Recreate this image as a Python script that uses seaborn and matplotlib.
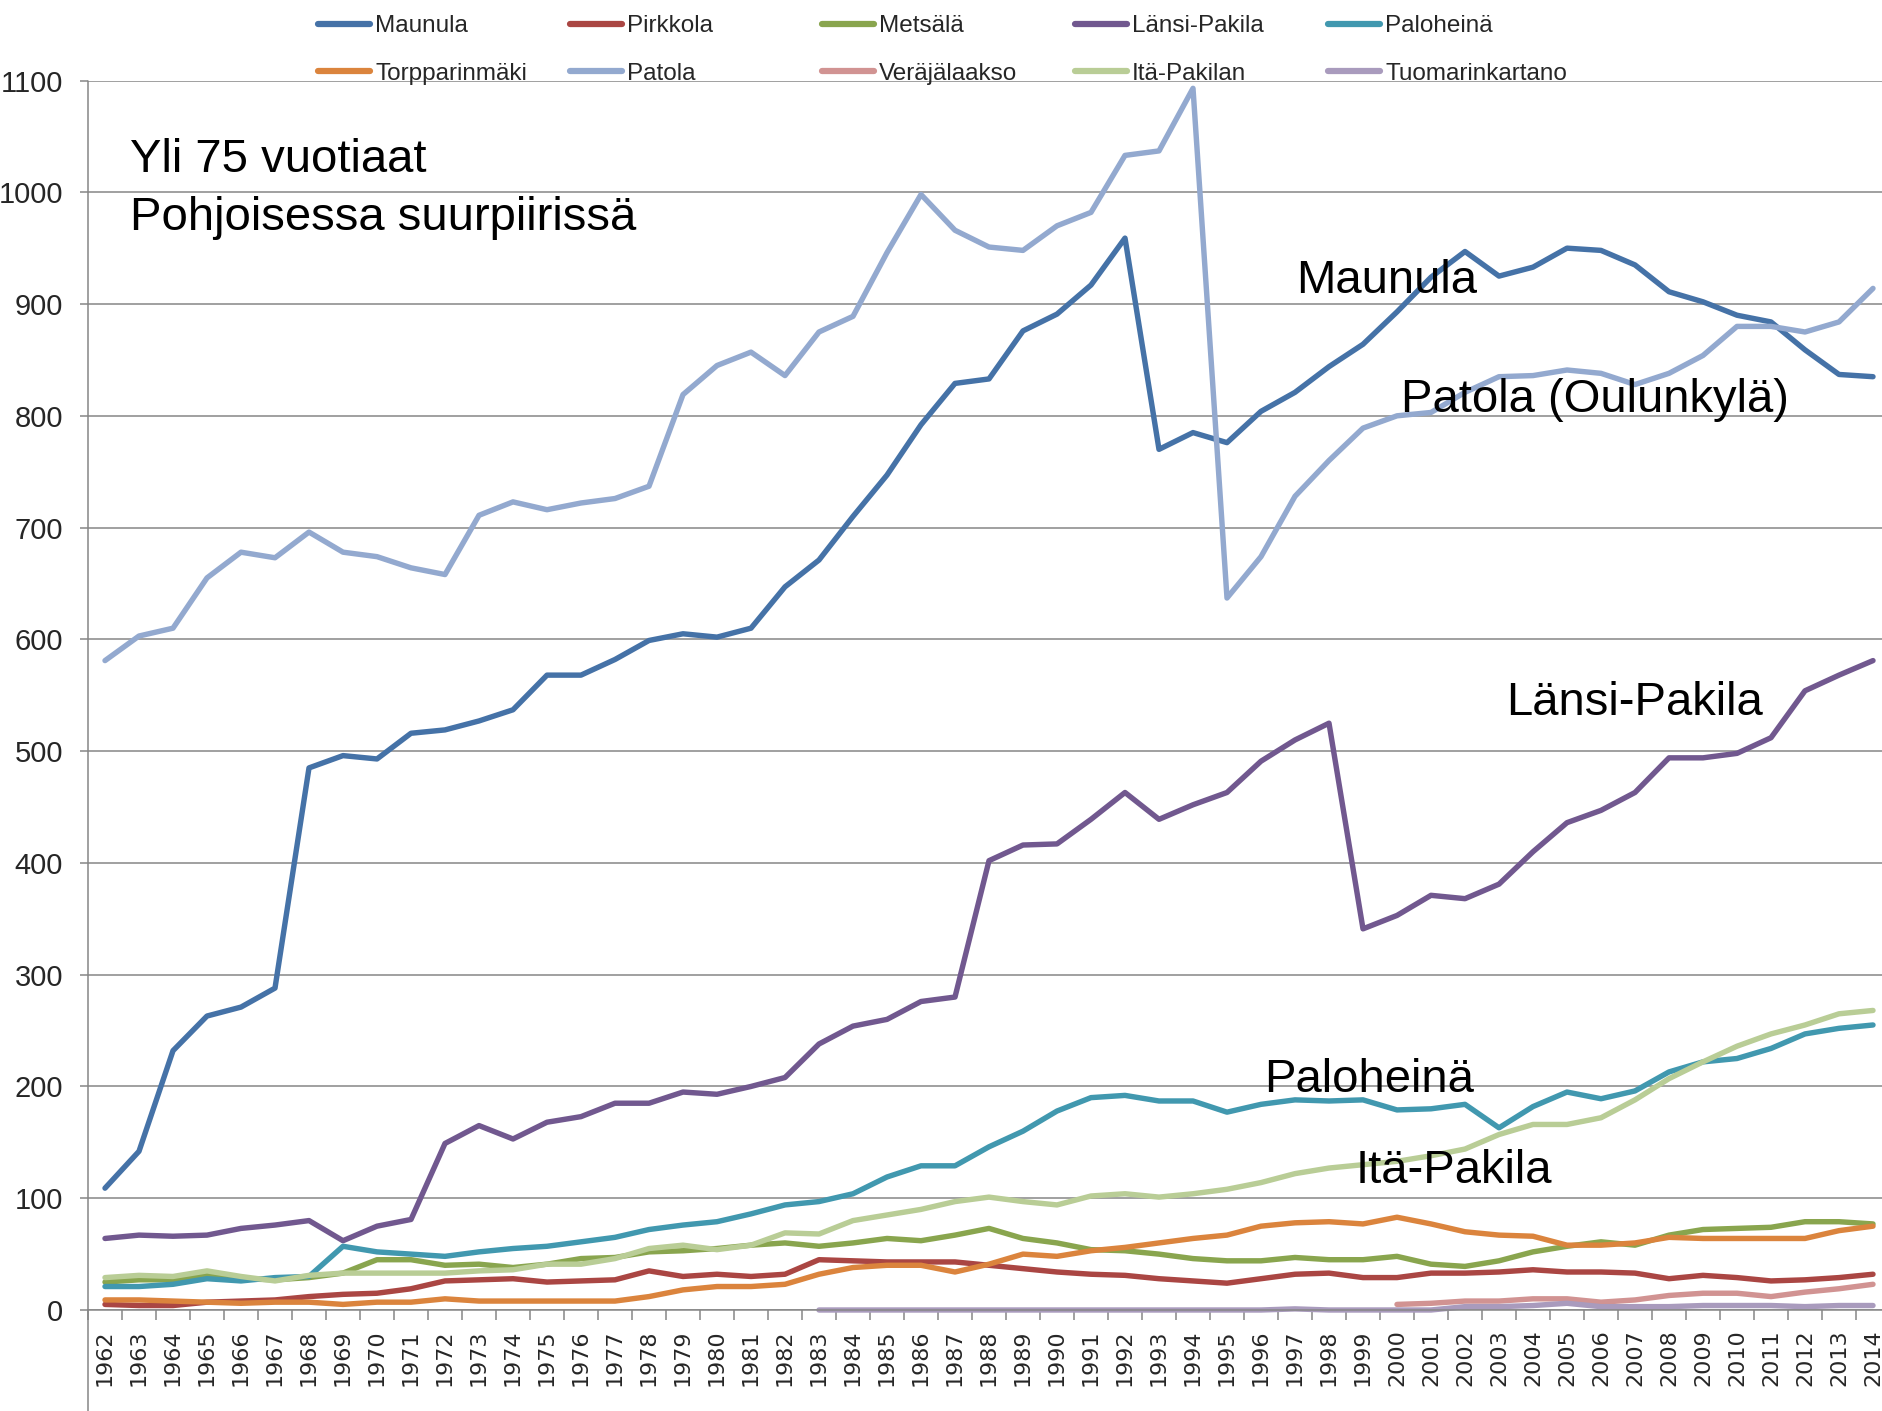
import matplotlib
matplotlib.use("Agg")
import matplotlib.pyplot as plt
from matplotlib.lines import Line2D
import seaborn as sns
import pandas as pd
import numpy as np

# data (persons aged over 75)
years = list(range(1962, 2015))

maunula = [109, 142, 232, 263, 271, 288, 485, 496, 493, 516,
           519, 527, 537, 568, 568, 582, 599, 605, 602, 610,
           647, 671, 710, 747, 792, 829, 833, 876, 891, 917,
           959, 770, 785, 776, 804, 821, 844, 864, 893, 924,
           947, 925, 933, 950, 948, 935, 911, 902, 890, 884,
           859, 837, 835]
pirkkola = [5, 4, 4, 7, 8, 9, 12, 14, 15, 19,
            26, 27, 28, 25, 26, 27, 35, 30, 32, 30,
            32, 45, 44, 43, 43, 43, 40, 37, 34, 32,
            31, 28, 26, 24, 28, 32, 33, 29, 29, 33,
            33, 34, 36, 34, 34, 33, 28, 31, 29, 26,
            27, 29, 32]
metsala = [25, 27, 27, 31, 28, 27, 29, 33, 45, 45,
           40, 41, 38, 41, 46, 47, 52, 53, 55, 58,
           60, 57, 60, 64, 62, 67, 73, 64, 60, 54,
           53, 50, 46, 44, 44, 47, 45, 45, 48, 41,
           39, 44, 52, 57, 61, 58, 67, 72, 73, 74,
           79, 79, 77]
lansi_pakila = [64, 67, 66, 67, 73, 76, 80, 62, 75, 81,
                149, 165, 153, 168, 173, 185, 185, 195, 193, 200,
                208, 238, 254, 260, 276, 280, 402, 416, 417, 439,
                463, 439, 452, 463, 491, 510, 525, 341, 353, 371,
                368, 381, 410, 436, 447, 463, 494, 494, 498, 512,
                554, 568, 581]
paloheina = [21, 21, 23, 28, 26, 29, 30, 57, 52, 50,
             48, 52, 55, 57, 61, 65, 72, 76, 79, 86,
             94, 97, 104, 119, 129, 129, 146, 160, 178, 190,
             192, 187, 187, 177, 184, 188, 187, 188, 179, 180,
             184, 163, 182, 195, 189, 196, 213, 222, 225, 234,
             247, 252, 255]
torpparinmaki = [9, 9, 8, 7, 6, 7, 7, 5, 7, 7,
                 10, 8, 8, 8, 8, 8, 12, 18, 21, 21,
                 23, 32, 38, 40, 40, 34, 41, 50, 48, 53,
                 56, 60, 64, 67, 75, 78, 79, 77, 83, 77,
                 70, 67, 66, 58, 58, 60, 65, 64, 64, 64,
                 64, 71, 75]
patola = [581, 603, 610, 655, 678, 673, 696, 678, 674, 664,
          658, 711, 723, 716, 722, 726, 737, 819, 845, 857,
          836, 875, 889, 946, 998, 966, 951, 948, 970, 982,
          1033, 1037, 1093, 637, 674, 728, 760, 789, 800, 803,
          821, 835, 836, 841, 838, 828, 838, 854, 880, 880,
          875, 884, 914]
# series that start later: None = no data
verajalaakso = [None] * 38 + [5, 6, 8, 8, 10, 10, 7, 9, 13, 15,
                              15, 12, 16, 19, 23]
ita_pakila = [29, 31, 30, 35, 30, 26, 31, 33, 33, 33,
              33, 35, 36, 41, 41, 46, 55, 58, 54, 58,
              69, 68, 80, 85, 90, 97, 101, 97, 94, 102,
              104, 101, 104, 108, 114, 122, 127, 130, 133, 138,
              144, 157, 166, 166, 172, 188, 207, 222, 236, 247,
              255, 265, 268]
tuomarinkartano = [None] * 21 + [0, 0, 0, 0, 0, 0, 0, 0, 0, 0,
                                 0, 0, 0, 0, 1, 0, 0, 0, 0, 3,
                                 3, 4, 6, 3, 3, 3, 4, 4, 4, 3,
                                 4, 4]

areas = ["Maunula", "Pirkkola", "Metsälä", "Länsi-Pakila", "Paloheinä",
         "Torpparinmäki", "Patola", "Veräjälaakso", "Itä-Pakilan", "Tuomarinkartano"]
series = [maunula, pirkkola, metsala, lansi_pakila, paloheina,
          torpparinmaki, patola, verajalaakso, ita_pakila, tuomarinkartano]
colors = ["#4572A7", "#AA4643", "#89A54E", "#71588F", "#4198AF",
          "#DB843D", "#93A9CF", "#D19392", "#B9CD96", "#A99BBD"]
palette = dict(zip(areas, colors))

wide = pd.DataFrame(dict(zip(areas, series)), index=years)
wide.index.name = "year"
df = wide.reset_index().melt(id_vars="year", var_name="area", value_name="value")
df = df.dropna(subset=["value"])

sns.set_style("white")
plt.rcParams["font.family"] = ["Liberation Sans", "DejaVu Sans"]

W, H = 1883, 1411
fig = plt.figure(figsize=(W / 100, H / 100), dpi=100)
ax = fig.add_axes([88 / W, 101 / H, (W - 88) / W, 1229.5 / H])

sns.lineplot(data=df, x="year", y="value", hue="area", hue_order=areas,
             palette=palette, linewidth=3.9, estimator=None, sort=False,
             legend=False, ax=ax)
for ln in ax.lines:
    ln.set_clip_on(False)
    ln.set_solid_joinstyle("round")
    ln.set_solid_capstyle("round")

grey = "#868686"
ax.set_ylim(0, 1100)
ax.set_xlim(1961.5, 1961.5 + (W - 88) / 34.0)
ax.set_yticks(range(0, 1101, 100))
ax.yaxis.grid(True, color=grey, linewidth=1.1)
ax.set_axisbelow(True)
ax.set_xlabel(None)
ax.set_ylabel(None)

for side in ["top", "right", "left"]:
    ax.spines[side].set_visible(False)
ax.spines["bottom"].set_color(grey)
ax.spines["bottom"].set_linewidth(1.1)

ax.set_xticks(years)
ax.set_xticklabels([str(y) for y in years], rotation=90, va="top",
                   fontfamily="DejaVu Sans", fontsize=16)
ax.set_xticks([y - 0.5 for y in years], minor=True)
ax.tick_params(axis="x", which="major", length=0, pad=14)
ax.tick_params(axis="x", which="minor", length=7, color=grey, width=1.1, bottom=True)
ax.tick_params(axis="y", which="major", length=6, color=grey, width=1.1, pad=12, left=True)
for lab in ax.get_yticklabels():
    lab.set_fontfamily(["Liberation Sans Narrow", "Liberation Sans"])
    lab.set_fontsize(21)

# y axis line runs down past the year labels
fig.add_artist(Line2D([88 / W, 88 / W], [0, (H - 80.5) / H], transform=fig.transFigure,
                      color=grey, linewidth=1.1))

# legend in five fixed-width columns, two rows
col_x = [318, 570, 822, 1075, 1328]
for i, x0 in enumerate(col_x):
    pair = [i, i + 5]
    hs = [Line2D([], [], color=colors[j], linewidth=4.5, solid_capstyle="round") for j in pair]
    fig.legend(hs, [areas[j] for j in pair], loc="upper left",
               bbox_to_anchor=(x0 / W, 1 - 15 / H), frameon=False, fontsize=17.5,
               handlelength=2.15, handletextpad=0.2, labelspacing=1.05,
               borderpad=0, borderaxespad=0)


def label(x, y, s):
    fig.text(x / W, (H - y) / H, s, fontsize=34, ha="left", va="baseline",
             color="black", zorder=5)


label(130, 172, "Yli 75 vuotiaat")
label(130, 230, "Pohjoisessa suurpiirissä")
label(1296, 293, "Maunula")
label(1401, 412, "Patola (Oulunkylä)")
label(1506, 715, "Länsi-Pakila")
label(1264, 1092, "Paloheinä")
label(1356, 1183, "Itä-Pakila")

plt.savefig("out.png", dpi=100)
